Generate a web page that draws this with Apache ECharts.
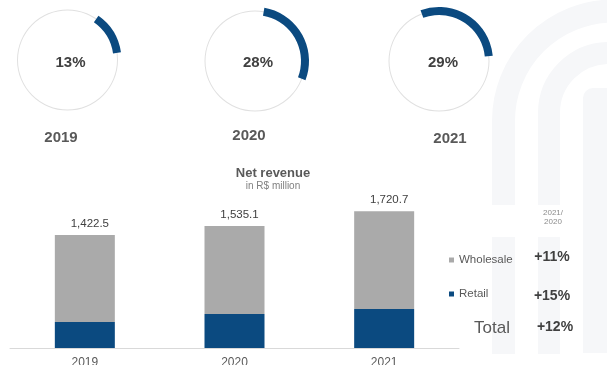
<!DOCTYPE html>
<html>
<head>
<meta charset="utf-8">
<script src="https://cdn.jsdelivr.net/npm/echarts@6/dist/echarts.min.js"></script>
<style>
  html, body { margin: 0; padding: 0; background: #ffffff; overflow: hidden; }
  #chart { width: 607px; height: 365px; }
</style>
</head>
<body>
<div id="chart"></div>
<script>
// Share of retail in net revenue, per year
const years = ['2019', '2020', '2021'];
const retailShare = [13, 28, 29];

// Net revenue, R$ million
const retail = [327, 428, 491];
const wholesale = [1095.5, 1107.1, 1229.7];

// Growth 2021 vs 2020
const growthHeader = ['2021/', '2020'];
const growthLabels = ['+11%', '+15%', '+12%'];
const totalLabel = 'Total';

const NAVY = '#0b4a80';
const GREY = '#aaaaaa';
const TEXT = '#595959';
const DARK = '#404040';
const FONT = '"Liberation Sans", Arial, sans-serif';
const WASH = '#f6f7f9';

const ringCenters = [[67.5, 60], [255, 61], [439, 61]];
const arcStartAngles = [55, 80, 110];
const shareLabelPos = [[70.5, 63], [258, 63], [443, 63]];
const yearLabelPos = [[61, 138], [249, 136], [450, 139]];

function fmt(n) {
  return n.toLocaleString('en-US', { minimumFractionDigits: 1, maximumFractionDigits: 1 });
}

const chart = echarts.init(document.getElementById('chart'), null, { renderer: 'canvas' });

const ringSeries = [];
retailShare.forEach(function (v, i) {
  // thin outline circle
  ringSeries.push({
    type: 'pie',
    silent: true,
    center: ringCenters[i],
    radius: [49.5, 50.5],
    label: { show: false },
    labelLine: { show: false },
    z: 1,
    data: [{ value: 1, itemStyle: { color: '#e0e0e0' } }]
  });
  // share arc
  ringSeries.push({
    type: 'pie',
    silent: true,
    center: ringCenters[i],
    radius: [46, 54],
    startAngle: arcStartAngles[i],
    clockwise: true,
    label: { show: false },
    labelLine: { show: false },
    z: 3,
    data: [
      { value: v, itemStyle: { color: NAVY } },
      { value: 100 - v, itemStyle: { color: 'rgba(0,0,0,0)' } }
    ]
  });
});

function txt(x, y, text, font, fill, align) {
  return {
    type: 'text', x: x, y: y, silent: true, z: 5,
    style: { text: text, fill: fill, font: font, align: align || 'center', verticalAlign: 'middle' }
  };
}

const texts = [];
retailShare.forEach(function (v, i) {
  texts.push(txt(shareLabelPos[i][0], shareLabelPos[i][1], v + '%', 'bold 15px ' + FONT, DARK));
});
years.forEach(function (y, i) {
  texts.push(txt(yearLabelPos[i][0], yearLabelPos[i][1], y, 'bold 15px ' + FONT, TEXT));
});
texts.push(
  txt(273, 173, 'Net revenue', 'bold 13px ' + FONT, TEXT),
  txt(273, 186, 'in R$ million', '10px ' + FONT, '#808080'),
  txt(553, 213, growthHeader[0], '8px ' + FONT, '#8c8c8c'),
  txt(553, 222, growthHeader[1], '8px ' + FONT, '#8c8c8c'),
  txt(552, 257, growthLabels[0], 'bold 14px ' + FONT, DARK),
  txt(552, 296, growthLabels[1], 'bold 14px ' + FONT, DARK),
  txt(555, 327, growthLabels[2], 'bold 14px ' + FONT, DARK),
  txt(510, 328, totalLabel, '17px ' + FONT, TEXT, 'right')
);

// faint arch pattern in the background
function band(x, topY, r, w) {
  return [
    { type: 'line', z: -10, silent: true, shape: { x1: x, y1: 354, x2: x, y2: topY + r },
      style: { stroke: WASH, lineWidth: w } },
    { type: 'arc', z: -10, silent: true,
      shape: { cx: x + r, cy: topY + r, r: r, startAngle: Math.PI, endAngle: Math.PI * 1.5, clockwise: true },
      style: { stroke: WASH, lineWidth: w, fill: null } },
    { type: 'line', z: -10, silent: true, shape: { x1: x + r, y1: topY, x2: 700, y2: topY },
      style: { stroke: WASH, lineWidth: w } }
  ];
}
const wash = [].concat(
  band(503.5, 11, 110, 23),
  band(549, 53, 60, 22),
  [
    { type: 'rect', z: -10, silent: true, shape: { x: 583, y: 88, width: 40, height: 265, r: [10, 0, 0, 0] },
      style: { fill: WASH } },
    { type: 'rect', z: -9, silent: true, shape: { x: 485, y: 205, width: 93, height: 32 },
      style: { fill: '#ffffff' } }
  ]
);

chart.setOption({
  animation: false,
  backgroundColor: '#ffffff',
  textStyle: { fontFamily: FONT },
  grid: { left: 10, right: 148, top: 189, bottom: 17, containLabel: false, outerBoundsMode: 'none' },
  legend: {
    data: ['Wholesale', 'Retail'],
    orient: 'vertical',
    left: 444,
    top: 249,
    itemWidth: 5,
    itemHeight: 5,
    itemGap: 22,
    icon: 'rect',
    selectedMode: false,
    textStyle: { color: TEXT, fontSize: 11.5, fontFamily: FONT }
  },
  xAxis: {
    type: 'category',
    data: years,
    axisLine: { lineStyle: { color: '#d9d9d9', width: 1 } },
    axisTick: { show: false },
    axisLabel: { color: TEXT, fontSize: 12, margin: 9, fontFamily: FONT }
  },
  yAxis: { type: 'value', min: 0, max: 2000, show: false, splitLine: { show: false } },
  graphic: { elements: wash.concat(texts) },
  series: [
    {
      name: 'Retail', type: 'bar', stack: 'revenue', barWidth: 60,
      data: retail, itemStyle: { color: NAVY }, silent: true
    },
    {
      name: 'Wholesale', type: 'bar', stack: 'revenue', barWidth: 60,
      data: wholesale, itemStyle: { color: GREY }, silent: true,
      label: {
        show: true, position: 'top', distance: 5, offset: [5, 0],
        color: DARK, fontSize: 11.5, fontFamily: FONT,
        formatter: function (p) { return fmt(retail[p.dataIndex] + wholesale[p.dataIndex]); }
      }
    }
  ].concat(ringSeries)
});
</script>
</body>
</html>
